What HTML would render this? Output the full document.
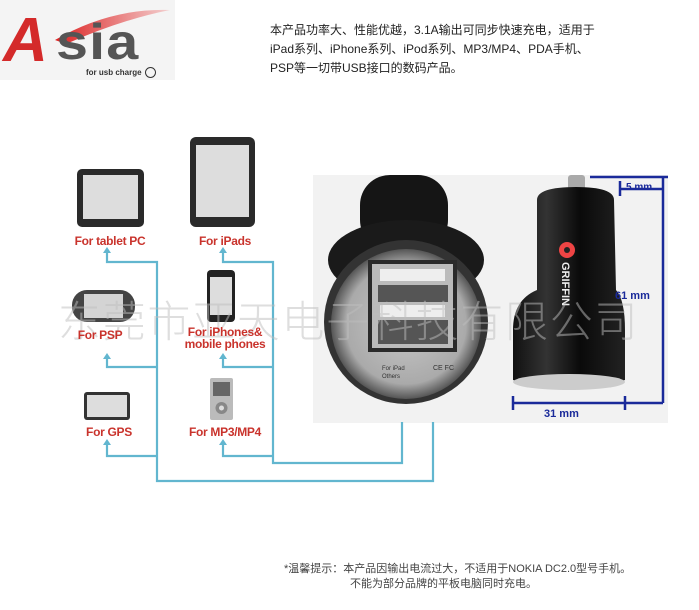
<!DOCTYPE html>
<html><head><meta charset="utf-8"><style>
body{margin:0;width:699px;height:610px;background:#fff;overflow:hidden;position:relative;font-family:"Liberation Sans","Noto Sans CJK SC",sans-serif}
.t{position:absolute;white-space:nowrap}
.lab{position:absolute;color:#c9332c;font-weight:bold;font-size:12px;text-align:center;line-height:12px;letter-spacing:-0.3px}
</style></head><body>
<svg width="699" height="610" style="position:absolute;left:0;top:0">
<defs>
<linearGradient id="sw" x1="0" y1="0" x2="1" y2="0"><stop offset="0" stop-color="#d22"/><stop offset="1" stop-color="#f3d0d0"/></linearGradient>
<radialGradient id="disc" cx="0.5" cy="0.5" r="0.5"><stop offset="0" stop-color="#c8c8c8"/><stop offset="0.8" stop-color="#aaa"/><stop offset="1" stop-color="#555"/></radialGradient>
<linearGradient id="blk" x1="0" y1="0" x2="1" y2="0"><stop offset="0" stop-color="#111"/><stop offset="0.3" stop-color="#333"/><stop offset="0.6" stop-color="#0a0a0a"/><stop offset="1" stop-color="#222"/></linearGradient>
</defs>
<rect x="0" y="0" width="175" height="80" fill="#f4f4f4"/>
<path d="M55 40 Q110 8 170 10 Q120 20 66 44 Z" fill="url(#sw)"/>
<rect x="313" y="175" width="355" height="248" fill="#f2f2f2"/>
<g fill="none" stroke="#62b6cf" stroke-width="2.2">
<path d="M107 252 V262 H157 V481 H433 V422"/>
<path d="M107 358 V367 H157"/>
<path d="M107 444 V456 H157"/>
<path d="M223 252 V262 H273 V463 H402 V422"/>
<path d="M223 358 V367 H273"/>
<path d="M223 444 V456 H273"/>
</g>
<g fill="#62b6cf">
<path d="M103 253 L107 247 L111 253Z"/><path d="M103 359 L107 353 L111 359Z"/><path d="M103 445 L107 439 L111 445Z"/>
<path d="M219 253 L223 247 L227 253Z"/><path d="M219 359 L223 353 L227 359Z"/><path d="M219 445 L223 439 L227 445Z"/>
</g>
<rect x="77" y="169" width="67" height="58" rx="5" fill="#2a2a2a"/><rect x="83" y="175" width="55" height="44" fill="#ddd"/>
<rect x="190" y="137" width="65" height="90" rx="6" fill="#2a2a2a"/><rect x="196" y="145" width="53" height="72" fill="#ddd"/>
<rect x="72" y="290" width="63" height="32" rx="15" fill="#444"/><rect x="84" y="294" width="39" height="24" fill="#d4d4d4"/>
<rect x="207" y="270" width="28" height="52" rx="4" fill="#222"/><rect x="210" y="277" width="22" height="38" fill="#ddd"/>
<rect x="84" y="392" width="46" height="28" rx="3" fill="#333"/><rect x="87" y="395" width="40" height="22" fill="#ddd"/>
<rect x="210" y="378" width="23" height="42" rx="2" fill="#bbb"/><rect x="213" y="382" width="17" height="14" fill="#666"/><circle cx="221.5" cy="408" r="6" fill="#888"/><circle cx="221.5" cy="408" r="2.5" fill="#ddd"/>
<rect x="360" y="175" width="88" height="75" rx="30" fill="#151515"/>
<ellipse cx="406" cy="260" rx="78" ry="40" fill="#1a1a1a"/>
<circle cx="406" cy="322" r="82" fill="#333"/>
<circle cx="406" cy="324" r="75" fill="url(#disc)"/>
<rect x="368" y="260" width="89" height="92" fill="#2a2a2a"/>
<rect x="372" y="264" width="81" height="84" fill="#bbb"/>
<rect x="380" y="269" width="65" height="12" fill="#eee"/><rect x="378" y="285" width="70" height="17" fill="#555"/>
<rect x="380" y="305" width="65" height="12" fill="#eee"/><rect x="378" y="320" width="70" height="24" fill="#555"/>
<text x="382" y="370" font-size="6" fill="#333">For iPad</text><text x="382" y="378" font-size="6" fill="#333">Others</text>
<text x="433" y="370" font-size="7" fill="#333">CE FC</text>
<rect x="568" y="175" width="17" height="18" rx="3" fill="#aaa"/>
<path d="M537 200 Q537 187 576 187 Q614 187 614 200 L616 290 Q625 300 625 330 L625 380 Q570 395 513 380 L513 330 Q513 300 537 290 Z" fill="url(#blk)"/>
<ellipse cx="569" cy="382" rx="56" ry="8" fill="#ccc"/>
<circle cx="567" cy="250" r="8" fill="#e44"/><circle cx="567" cy="250" r="3" fill="#222"/>
<text transform="translate(562,262) rotate(90)" font-size="11" font-weight="bold" fill="#eee">GRIFFIN</text>
<g stroke="#1a2a9a" stroke-width="2.5" fill="none">
<path d="M590 177 H668 M663 177 V403 M513 403 H663 M513 396 V410 M625 396 V410 M620 181 V196 M620 189 H663"/>
</g>
<text x="626" y="190" font-size="10" fill="#1a2a9a" font-weight="bold">5 mm</text>
<text x="615" y="299" font-size="11" fill="#1a2a9a" font-weight="bold">61 mm</text>
<text x="544" y="417" font-size="11" fill="#1a2a9a" font-weight="bold">31 mm</text>
</svg>
<div class="t" style="left:3px;top:10px;font-size:62px;line-height:62px;font-weight:bold;font-style:italic;color:#d42a2a">A</div>
<div class="t" style="left:56px;top:12px;font-size:50px;line-height:60px;font-weight:bold;color:#555;letter-spacing:1px;transform:scaleX(1.15);transform-origin:left">sia</div>
<div class="t" style="left:86px;top:68px;font-size:8px;font-weight:bold;color:#333">for usb charge</div>
<div class="t" style="left:145px;top:67px;width:9px;height:9px;border:1px solid #333;border-radius:50%"></div>
<div class="t" style="left:58px;top:288px;font-size:43px;color:rgba(190,190,190,0.5);letter-spacing:1.7px;font-weight:300">东莞市亚天电子科技有限公司</div>
<div class="lab" style="left:60px;top:235px;width:100px">For tablet PC</div>
<div class="lab" style="left:180px;top:235px;width:90px">For iPads</div>
<div class="lab" style="left:70px;top:329px;width:60px">For PSP</div>
<div class="lab" style="left:175px;top:326px;width:100px">For iPhones&amp;<br>mobile phones</div>
<div class="lab" style="left:70px;top:426px;width:78px">For GPS</div>
<div class="lab" style="left:175px;top:426px;width:100px">For MP3/MP4</div>
<div class="t" style="left:270px;top:21px;font-size:12px;line-height:19px;color:#222">本产品功率大、性能优越，3.1A输出可同步快速充电，适用于<br>iPad系列、iPhone系列、iPod系列、MP3/MP4、PDA手机、<br>PSP等一切带USB接口的数码产品。</div>
<div class="t" style="left:284px;top:562px;font-size:11px;line-height:15px;color:#444">*温馨提示：本产品因输出电流过大，不适用于NOKIA DC2.0型号手机。<br><span style="padding-left:66px">不能为部分品牌的平板电脑同时充电。</span></div>
</body></html>
